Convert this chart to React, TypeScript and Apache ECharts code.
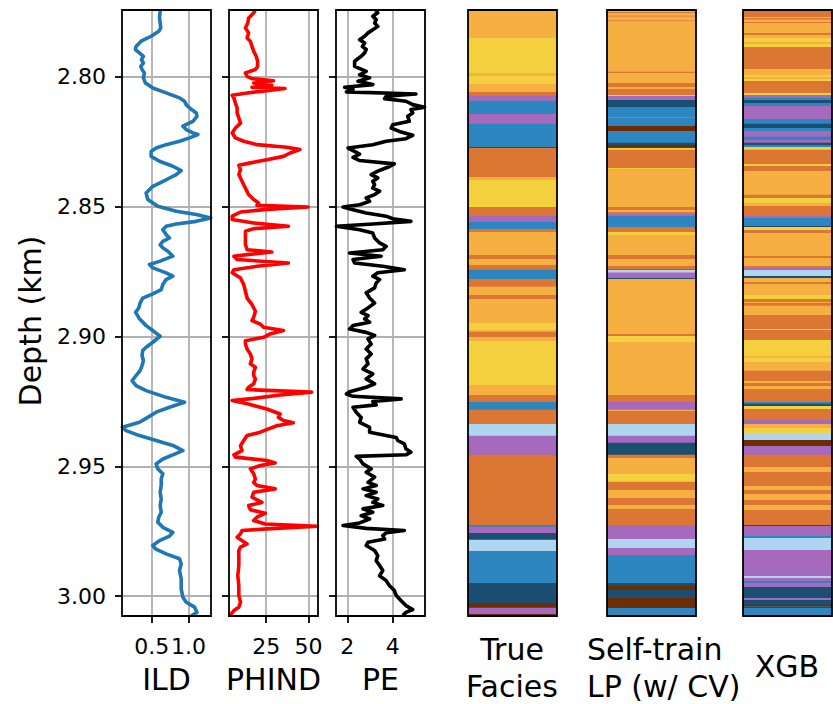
import React, { useEffect, useRef } from "react";
import * as echarts from "echarts";

// ---------- tick labels ----------
const depthTicks = [2.8, 2.85, 2.9, 2.95, 3.0];
const ildTicks = [0.5, 1.0];
const phindTicks = [25, 50];
const peTicks = [2, 4];

// ---------- depth range (km) ----------
const depthTop = 2.7745;
const depthBottom = 3.0076;

// ---------- ILD log ----------
const ildDepth = [2.7748, 2.7776, 2.7814, 2.7827, 2.7846, 2.7865, 2.7885, 2.7897, 2.791, 2.7923, 2.7936, 2.7949, 2.7962, 2.7974, 2.7987, 2.8006, 2.8026, 2.8045, 2.8064, 2.8083, 2.8096, 2.8109, 2.8122, 2.8141, 2.8154, 2.8173, 2.8192, 2.8205, 2.8218, 2.8224, 2.8237, 2.825, 2.8263, 2.8276, 2.8289, 2.8308, 2.8327, 2.8346, 2.8363, 2.8378, 2.8398, 2.8423, 2.8449, 2.8474, 2.85, 2.8519, 2.8532, 2.8545, 2.8558, 2.8568, 2.8577, 2.859, 2.8609, 2.8622, 2.8635, 2.8648, 2.866, 2.8673, 2.8692, 2.8712, 2.8724, 2.8737, 2.8756, 2.8769, 2.8782, 2.8801, 2.8821, 2.8837, 2.8853, 2.8872, 2.8891, 2.8908, 2.8933, 2.8959, 2.8978, 2.9, 2.9023, 2.9042, 2.9055, 2.9074, 2.9094, 2.9113, 2.9132, 2.9151, 2.9171, 2.919, 2.9209, 2.9235, 2.9254, 2.9273, 2.9292, 2.9312, 2.9331, 2.935, 2.9363, 2.9382, 2.9401, 2.942, 2.944, 2.9456, 2.9472, 2.9491, 2.951, 2.9529, 2.9549, 2.9574, 2.96, 2.9626, 2.9651, 2.9677, 2.9696, 2.9715, 2.9735, 2.9754, 2.9769, 2.9786, 2.9805, 2.9818, 2.9837, 2.9856, 2.9876, 2.9901, 2.9933, 2.9972, 3.0004, 3.0023, 3.0042, 3.0062, 3.0075];
const ildValue = [0.614, 0.605, 0.623, 0.595, 0.491, 0.355, 0.286, 0.277, 0.332, 0.386, 0.359, 0.386, 0.35, 0.368, 0.4, 0.386, 0.414, 0.514, 0.695, 0.877, 0.945, 0.968, 1.014, 1.104, 1.114, 1.059, 0.923, 0.968, 1.059, 1.127, 1.014, 0.877, 0.695, 0.559, 0.491, 0.491, 0.605, 0.786, 0.9, 0.832, 0.695, 0.514, 0.423, 0.445, 0.582, 0.832, 1.104, 1.3, 1.104, 0.832, 0.695, 0.65, 0.695, 0.741, 0.65, 0.614, 0.65, 0.718, 0.786, 0.605, 0.468, 0.514, 0.695, 0.786, 0.695, 0.65, 0.628, 0.514, 0.377, 0.341, 0.323, 0.28, 0.332, 0.423, 0.514, 0.614, 0.514, 0.423, 0.377, 0.368, 0.386, 0.368, 0.341, 0.286, 0.232, 0.286, 0.423, 0.695, 0.945, 0.741, 0.559, 0.445, 0.332, 0.1, 0.15, 0.332, 0.559, 0.786, 0.923, 0.786, 0.65, 0.559, 0.582, 0.65, 0.628, 0.628, 0.614, 0.628, 0.614, 0.628, 0.595, 0.582, 0.65, 0.786, 0.741, 0.605, 0.514, 0.55, 0.695, 0.877, 0.9, 0.877, 0.9, 0.9, 0.923, 0.968, 1.082, 1.114, 1.036];

// ---------- PHIND log ----------
const phindDepth = [2.7748, 2.7763, 2.7776, 2.7795, 2.7814, 2.7833, 2.7853, 2.7865, 2.7885, 2.7904, 2.7923, 2.7942, 2.7962, 2.7974, 2.7987, 2.8, 2.8009, 2.8017, 2.8026, 2.8035, 2.8042, 2.8047, 2.8055, 2.8064, 2.8073, 2.8083, 2.8103, 2.8122, 2.8141, 2.816, 2.818, 2.8199, 2.8218, 2.8237, 2.825, 2.8263, 2.8273, 2.8282, 2.8295, 2.8308, 2.8321, 2.8333, 2.8342, 2.8359, 2.8378, 2.8404, 2.843, 2.8455, 2.8474, 2.8487, 2.8496, 2.8503, 2.8512, 2.8522, 2.8538, 2.8551, 2.8564, 2.8577, 2.8586, 2.8596, 2.8622, 2.8647, 2.8667, 2.8676, 2.8686, 2.8692, 2.8705, 2.8718, 2.8731, 2.8744, 2.8756, 2.8776, 2.8801, 2.8827, 2.8853, 2.8878, 2.8904, 2.8927, 2.894, 2.8953, 2.8965, 2.8978, 2.8991, 2.9004, 2.9017, 2.903, 2.9049, 2.9068, 2.9087, 2.9106, 2.9119, 2.9138, 2.9151, 2.9164, 2.9183, 2.9196, 2.9205, 2.9215, 2.9226, 2.9239, 2.9247, 2.926, 2.928, 2.9299, 2.9312, 2.9324, 2.9333, 2.9344, 2.9356, 2.9369, 2.9382, 2.9401, 2.9421, 2.944, 2.9456, 2.9465, 2.9478, 2.9487, 2.9497, 2.951, 2.9529, 2.9549, 2.9562, 2.9574, 2.9587, 2.96, 2.9619, 2.9639, 2.9651, 2.9667, 2.9681, 2.9696, 2.9709, 2.9722, 2.9731, 2.9741, 2.9747, 2.976, 2.9773, 2.9786, 2.9799, 2.9811, 2.9824, 2.9844, 2.9882, 2.9921, 2.9959, 2.9997, 3.0023, 3.0042, 3.0055, 3.0068, 3.0075];
const phindValue = [18.6, 16.6, 14.6, 14.1, 12.7, 14.6, 13.7, 15.6, 16.6, 17.6, 19.1, 19.9, 19.9, 18.6, 12.7, 13.7, 16.6, 29.3, 17.6, 28.3, 16.6, 36.1, 25.4, 13.7, 4.9, 5.9, 6.8, 7.8, 7.8, 8.8, 9.8, 6.8, 4.9, 6.8, 11.7, 19.5, 37.1, 44.9, 39.1, 35.2, 25.4, 15.6, 8.8, 9.8, 8.8, 10.7, 12.7, 14.6, 17.6, 20.5, 19.5, 49.8, 25.4, 9.8, 4.9, 4.9, 17.6, 38.1, 17.6, 12.7, 12.7, 12.7, 13.7, 28.3, 13.7, 5.9, 7.8, 38.1, 19.5, 5.9, 4.9, 9.8, 11.7, 12.7, 13.7, 16.6, 18.6, 17.6, 16.6, 21.5, 23.4, 35.2, 27.3, 23.4, 12.7, 12.7, 13.7, 15.6, 16.6, 15.6, 18.6, 17.6, 17.6, 18.6, 17.6, 14.6, 13.7, 51.8, 33.2, 17.6, 4.9, 13.7, 25.4, 33.2, 32.2, 35.2, 41.0, 31.3, 26.4, 21.5, 13.7, 11.7, 9.8, 10.7, 5.9, 6.8, 25.4, 30.3, 21.5, 15.6, 17.6, 18.6, 17.6, 19.5, 30.3, 17.6, 16.6, 22.5, 14.6, 15.6, 24.4, 19.5, 17.6, 24.4, 55.3, 25.4, 10.7, 9.8, 7.8, 10.7, 13.7, 9.8, 8.8, 8.8, 8.8, 8.2, 8.8, 8.8, 9.8, 8.8, 5.9, 4.3, 3.1];

// ---------- PE log ----------
const peDepth = [2.7748, 2.7756, 2.7769, 2.7782, 2.7795, 2.7808, 2.7821, 2.7833, 2.7846, 2.7859, 2.7872, 2.7885, 2.7897, 2.791, 2.7923, 2.7942, 2.7962, 2.7981, 2.7994, 2.8006, 2.8019, 2.8032, 2.8042, 2.8051, 2.806, 2.8068, 2.8077, 2.8086, 2.8096, 2.8109, 2.8119, 2.8128, 2.8141, 2.8154, 2.8173, 2.8186, 2.8199, 2.8212, 2.8227, 2.824, 2.825, 2.8263, 2.8276, 2.8286, 2.8299, 2.8312, 2.8324, 2.8337, 2.835, 2.8365, 2.8378, 2.8391, 2.8404, 2.8417, 2.843, 2.8442, 2.8455, 2.8468, 2.8481, 2.8494, 2.8503, 2.8513, 2.8526, 2.8538, 2.8548, 2.8558, 2.8568, 2.8577, 2.859, 2.8603, 2.8622, 2.8641, 2.8654, 2.8667, 2.868, 2.8692, 2.8705, 2.8718, 2.8731, 2.8744, 2.8756, 2.8769, 2.8782, 2.8795, 2.8814, 2.8833, 2.8853, 2.8872, 2.8891, 2.8908, 2.8921, 2.8933, 2.8946, 2.8959, 2.8972, 2.8985, 2.8997, 2.901, 2.903, 2.9049, 2.9068, 2.9087, 2.9106, 2.9126, 2.9145, 2.9164, 2.9183, 2.9196, 2.9213, 2.9222, 2.9231, 2.9241, 2.9251, 2.9264, 2.9273, 2.9292, 2.9312, 2.9331, 2.935, 2.9369, 2.9389, 2.9401, 2.9414, 2.9433, 2.9446, 2.9456, 2.9462, 2.9472, 2.9491, 2.951, 2.9523, 2.9542, 2.9562, 2.9574, 2.9587, 2.96, 2.9613, 2.9626, 2.9639, 2.9651, 2.9664, 2.9677, 2.969, 2.9703, 2.9718, 2.9728, 2.9739, 2.9747, 2.9756, 2.9767, 2.978, 2.9792, 2.9805, 2.9824, 2.9844, 2.9863, 2.9882, 2.9901, 2.9921, 2.994, 2.9959, 2.9978, 2.9997, 3.0017, 3.0036, 3.0051, 3.0062, 3.0074];
const peValue = [3.24, 3.34, 3.12, 3.27, 3.2, 3.34, 3.12, 2.91, 2.76, 2.54, 2.76, 2.66, 2.83, 2.76, 2.61, 2.32, 2.32, 2.83, 2.54, 2.98, 2.47, 3.12, 1.88, 2.25, 1.96, 5.02, 3.71, 3.64, 4.58, 4.88, 5.4, 4.8, 4.88, 4.66, 4.73, 4.0, 3.93, 4.29, 4.88, 4.58, 3.71, 3.12, 2.03, 2.25, 2.54, 2.25, 2.54, 4.07, 3.78, 3.34, 3.05, 3.34, 3.12, 3.2, 3.12, 3.42, 3.2, 2.83, 2.98, 2.54, 1.81, 2.25, 2.83, 3.71, 4.0, 4.8, 3.12, 1.52, 2.54, 3.12, 3.2, 3.42, 3.71, 3.56, 2.1, 3.49, 2.25, 2.32, 3.56, 4.51, 3.34, 3.12, 3.42, 3.27, 3.2, 2.83, 2.98, 3.2, 2.91, 2.61, 2.91, 2.76, 2.98, 2.25, 2.1, 2.83, 3.2, 2.91, 3.05, 2.83, 3.05, 2.83, 2.91, 2.69, 3.12, 2.83, 3.2, 2.83, 2.1, 1.96, 2.25, 4.37, 3.12, 3.27, 2.25, 2.39, 2.61, 2.54, 2.98, 2.98, 4.15, 4.22, 4.51, 4.58, 4.8, 4.58, 2.39, 2.54, 2.69, 3.05, 2.83, 3.2, 2.91, 3.27, 2.69, 3.27, 2.83, 3.34, 3.12, 3.56, 2.69, 3.12, 2.61, 2.98, 2.54, 1.81, 2.83, 4.51, 3.71, 3.56, 3.64, 2.91, 2.83, 3.2, 3.34, 3.27, 3.42, 3.56, 3.42, 3.71, 3.85, 4.07, 4.15, 4.37, 4.58, 4.88, 4.58, 4.44];

// ---------- facies (top depth of each interval, facies code 1..9) ----------
const faciesColors = ["#F4D03F", "#F5B041", "#DC7633", "#6E2C00", "#1B4F72", "#2E86C1", "#AED6F1", "#A569BD", "#196F3D"];

const trueTops = [2.7745, 2.7854, 2.7987, 2.7999, 2.803, 2.806, 2.8075, 2.8094, 2.8145, 2.8181, 2.8272, 2.8276, 2.8387, 2.8399, 2.8503, 2.8537, 2.856, 2.8587, 2.8599, 2.8687, 2.8703, 2.8726, 2.8744, 2.878, 2.881, 2.8841, 2.8857, 2.8949, 2.8976, 2.8983, 2.9003, 2.9018, 2.9187, 2.9226, 2.9253, 2.9283, 2.9337, 2.9383, 2.9456, 2.9726, 2.9733, 2.9757, 2.9783, 2.9826, 2.9949, 3.0026, 3.0044, 3.0068];
const trueCodes = [2, 1, 2, 1, 2, 3, 8, 6, 8, 6, 5, 3, 2, 1, 3, 8, 6, 3, 2, 3, 2, 3, 6, 3, 2, 3, 2, 1, 2, 3, 2, 1, 2, 3, 6, 3, 7, 8, 3, 6, 8, 5, 7, 6, 5, 4, 8, 4];

const lpTops = [2.7745, 2.7753, 2.7757, 2.7766, 2.777, 2.7784, 2.7789, 2.7983, 2.7987, 2.8026, 2.8041, 2.8049, 2.8072, 2.8076, 2.8091, 2.8118, 2.8157, 2.816, 2.8191, 2.821, 2.8256, 2.8264, 2.8276, 2.8283, 2.8353, 2.8356, 2.8503, 2.8514, 2.8522, 2.853, 2.8537, 2.858, 2.8599, 2.861, 2.8687, 2.8703, 2.873, 2.8741, 2.8745, 2.8755, 2.8776, 2.878, 2.8991, 2.8999, 2.9022, 2.9226, 2.9253, 2.9283, 2.9287, 2.9337, 2.9383, 2.941, 2.9456, 2.9468, 2.953, 2.956, 2.9591, 2.9622, 2.9649, 2.9664, 2.9726, 2.978, 2.9814, 2.9841, 2.9949, 2.996, 2.9976, 3.0007, 3.0045];
const lpCodes = [2, 3, 2, 3, 2, 3, 2, 3, 2, 3, 2, 3, 1, 8, 5, 6, 8, 6, 4, 6, 5, 4, 1, 3, 1, 2, 3, 2, 3, 8, 6, 3, 1, 2, 3, 2, 3, 6, 7, 8, 5, 2, 3, 1, 2, 3, 8, 2, 3, 7, 8, 5, 3, 2, 1, 3, 2, 3, 2, 3, 8, 7, 8, 6, 5, 4, 5, 4, 6];

const xgbTops = [2.7745, 2.7772, 2.7776, 2.7782, 2.7791, 2.7795, 2.7833, 2.7841, 2.7853, 2.7868, 2.7876, 2.7887, 2.7972, 2.7995, 2.8003, 2.801, 2.8018, 2.8064, 2.8072, 2.8083, 2.8091, 2.8103, 2.8114, 2.8164, 2.8183, 2.8199, 2.821, 2.8233, 2.8245, 2.8256, 2.8264, 2.8272, 2.8283, 2.8337, 2.8345, 2.8364, 2.8456, 2.8468, 2.8487, 2.8499, 2.8537, 2.8545, 2.8576, 2.858, 2.8591, 2.8603, 2.8691, 2.8699, 2.873, 2.8737, 2.8745, 2.8768, 2.8776, 2.8791, 2.8799, 2.8841, 2.8857, 2.8868, 2.8872, 2.8883, 2.8918, 2.8972, 2.8976, 2.9014, 2.9076, 2.9083, 2.9099, 2.9133, 2.9172, 2.918, 2.9191, 2.9203, 2.9253, 2.926, 2.9268, 2.928, 2.9322, 2.9337, 2.9353, 2.9372, 2.9399, 2.9422, 2.9456, 2.9503, 2.9522, 2.9576, 2.9591, 2.9607, 2.963, 2.9649, 2.9668, 2.9726, 2.973, 2.9768, 2.9776, 2.9822, 2.9922, 2.993, 2.9941, 2.9949, 2.9964, 3.0007, 3.0014, 3.0033, 3.0039, 3.0045];
const xgbCodes = [3, 2, 3, 2, 3, 2, 3, 2, 1, 2, 1, 3, 2, 1, 2, 1, 3, 1, 8, 6, 5, 6, 8, 6, 5, 6, 8, 6, 8, 5, 6, 1, 3, 1, 3, 2, 3, 1, 2, 3, 8, 6, 5, 1, 3, 2, 3, 2, 3, 8, 7, 5, 2, 3, 2, 1, 3, 2, 3, 2, 3, 1, 3, 1, 2, 1, 2, 3, 2, 3, 2, 3, 6, 5, 1, 3, 8, 2, 1, 7, 4, 8, 3, 2, 3, 2, 3, 2, 3, 2, 3, 5, 8, 6, 7, 8, 7, 8, 6, 8, 5, 8, 5, 4, 5, 6];

// ---------- layout ----------
const FONT = "DejaVu Sans";
const TOP = 10;
const H = 606;
const W = 89;
const lefts = [122, 229, 336, 468, 607, 743];

const logs = [
  { name: "ILD", depth: ildDepth, value: ildValue, color: "#1f77b4", min: 0.095, max: 1.305, step: 0.5, ticks: ildTicks, fmt: (v: number) => v.toFixed(1) },
  { name: "PHIND", depth: phindDepth, value: phindValue, color: "#ff0000", min: 3.0, max: 55.6, step: 25, ticks: phindTicks, fmt: (v: number) => String(v) },
  { name: "PE", depth: peDepth, value: peValue, color: "#000000", min: 1.5, max: 5.42, step: 2, ticks: peTicks, fmt: (v: number) => String(v) },
];

const faciesCols = [
  { label: "True\nFacies", tops: trueTops, codes: trueCodes, lx: 512, ly: 631, align: "center" },
  { label: "Self-train\nLP (w/ CV)", tops: lpTops, codes: lpCodes, lx: 587, ly: 631, align: "left" },
  { label: "XGB", tops: xgbTops, codes: xgbCodes, lx: 787, ly: 648, align: "center" },
];

function buildOption() {
  const grid = lefts.map((l) => ({ left: l, top: TOP, width: W, height: H, containLabel: false }));

  const yAxis = lefts.map((_, i) => ({
    gridIndex: i,
    type: "value",
    inverse: true,
    min: depthTop,
    max: depthBottom,
    scale: true,
    axisLine: { show: false },
    axisTick: {
      show: i < 3,
      length: 7,
      customValues: depthTicks,
      lineStyle: { color: "#000", width: 1.8 },
    },
    axisLabel: {
      show: i === 0,
      customValues: depthTicks,
      margin: 16,
      fontSize: 22,
      color: "#000",
      fontFamily: FONT,
      formatter: (v: number) => v.toFixed(2),
    },
    minInterval: 0.05,
    maxInterval: 0.05,
    splitLine: { show: i < 3, lineStyle: { color: "#b0b0b0", width: 1.8 } },
    name: i === 0 ? "Depth (km)" : "",
    nameLocation: "middle",
    nameGap: 77,
    nameTextStyle: { fontSize: 30, color: "#000", fontFamily: FONT, padding: [0, 16, 0, 0] },
  }));

  const xAxis: any[] = [];
  logs.forEach((lg, i) => {
    xAxis.push({
      gridIndex: i,
      type: "value",
      min: lg.min,
      max: lg.max,
      minInterval: lg.step,
      maxInterval: lg.step,
      position: "bottom",
      axisLine: { show: false },
      axisTick: { show: true, length: 7, customValues: lg.ticks, lineStyle: { color: "#000", width: 1.8 } },
      axisLabel: {
        show: true,
        customValues: lg.ticks,
        margin: 19,
        fontSize: 22,
        color: "#000",
        fontFamily: FONT,
        formatter: lg.fmt,
      },
      splitLine: { show: true, lineStyle: { color: "#b0b0b0", width: 1.8 } },
      name: lg.name,
      nameLocation: "middle",
      nameGap: 48,
      nameTextStyle: { fontSize: 30, color: "#000", fontFamily: FONT, lineHeight: 30 },
    });
  });
  faciesCols.forEach((_fc, j) => {
    xAxis.push({
      gridIndex: 3 + j,
      type: "value",
      min: 0,
      max: 1,
      show: false,
    });
  });

  const series: any[] = [];
  logs.forEach((lg, i) => {
    series.push({
      type: "line",
      xAxisIndex: i,
      yAxisIndex: i,
      data: lg.depth.map((d, k) => [lg.value[k], d]),
      showSymbol: false,
      symbol: "none",
      clip: true,
      lineStyle: { color: lg.color, width: 3.6, join: "round" },
      z: 3,
    });
  });
  faciesCols.forEach((fc, j) => {
    const data = fc.tops.map((t, k) => [0.5, t, k < fc.tops.length - 1 ? fc.tops[k + 1] : depthBottom, fc.codes[k]]);
    series.push({
      type: "custom",
      xAxisIndex: 3 + j,
      yAxisIndex: 3 + j,
      data,
      dimensions: ["x", "top", "bottom", "code"],
      encode: { x: 0, y: [1, 2] },
      clip: true,
      renderItem: (_p: any, api: any) => {
        const a = api.coord([0, api.value(1)]);
        const b = api.coord([1, api.value(2)]);
        return {
          type: "rect",
          shape: { x: a[0], y: a[1], width: b[0] - a[0], height: b[1] - a[1] + 0.4 },
          style: { fill: faciesColors[api.value(3) - 1] },
        };
      },
    });
  });

  const graphic: any[] = lefts.map((l) => ({
    type: "rect",
    z: 100,
    silent: true,
    shape: { x: l, y: TOP, width: W, height: H },
    style: { fill: "none", stroke: "#000", lineWidth: 1.8 },
  }));
  faciesCols.forEach((fc) => {
    graphic.push({
      type: "text",
      z: 100,
      silent: true,
      x: fc.lx,
      y: fc.ly,
      style: {
        text: fc.label,
        fill: "#000",
        font: `30px '${FONT}'`,
        lineHeight: 37,
        textAlign: fc.align,
        textVerticalAlign: "top",
      },
    });
  });

  return {
    animation: false,
    backgroundColor: "#ffffff",
    textStyle: { fontFamily: FONT },
    grid,
    xAxis,
    yAxis,
    series,
    graphic,
  };
}

export default function App() {
  const ref = useRef<HTMLDivElement>(null);
  useEffect(() => {
    if (!ref.current) return;
    const chart = echarts.init(ref.current, null, { renderer: "svg" });
    chart.setOption(buildOption() as any);
    return () => chart.dispose();
  }, []);
  return (
    <div
      ref={ref}
      style={{ position: "absolute", left: 0, top: 0, width: 833, height: 704, background: "#fff" }}
    />
  );
}
